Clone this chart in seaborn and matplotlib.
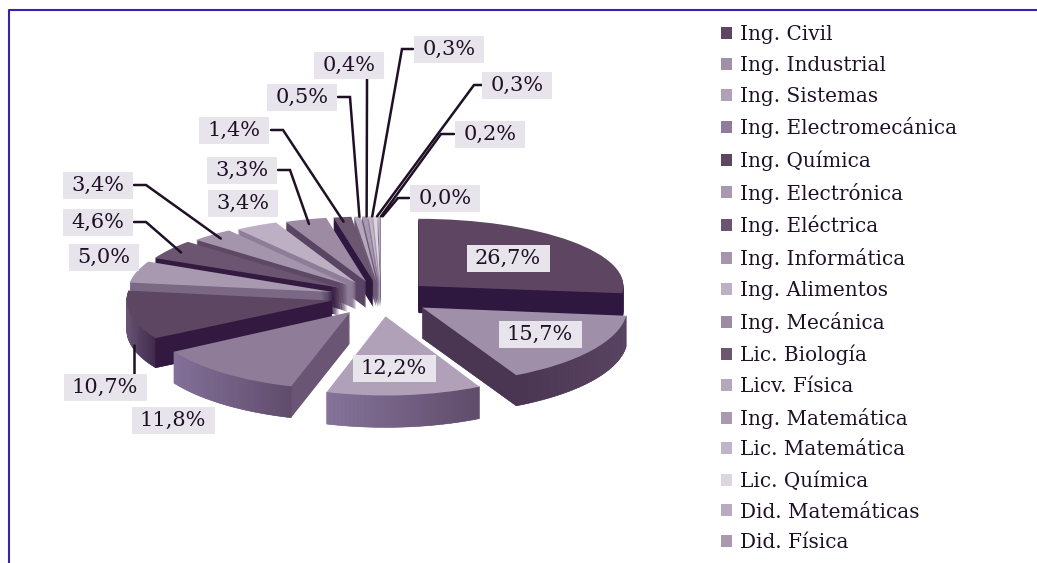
import matplotlib
matplotlib.use('Agg')
import matplotlib.pyplot as plt
from matplotlib.colors import to_rgb
from matplotlib.patches import Rectangle
from matplotlib.transforms import Affine2D
import numpy as np
import seaborn as sns

# programs, clockwise from 12 o'clock
carreras = ['Ing. Civil', 'Ing. Industrial', 'Ing. Sistemas', 'Ing. Electromecánica',
            'Ing. Química', 'Ing. Electrónica', 'Ing. Eléctrica', 'Ing. Informática',
            'Ing. Alimentos', 'Ing. Mecánica', 'Lic. Biología', 'Licv. Física',
            'Ing. Matemática', 'Lic. Matemática', 'Lic. Química', 'Did. Matemáticas',
            'Did. Física']
porcentajes = [26.7, 15.7, 12.2, 11.8, 10.7, 5.0, 4.6, 3.4, 3.4, 3.3, 1.4, 0.5, 0.4, 0.3, 0.3, 0.2, 0.0]

colores = ['#5e4562', '#a08fa8', '#b0a0b8', '#8f7c98', '#5c4662', '#a898b0', '#6b5570', '#a494ac',
           '#bdb0c4', '#9c8ba3', '#6b5870', '#b5a8bc', '#a898b0', '#c0b4c6', '#dcd6e0', '#b8aac0', '#a898b0']
lados = ['#2e1840', '#4a3552', '#76627f', '#6a5575', '#33193f', '#7a6885', '#331a40', '#5e4866',
         '#8e7d98', '#5a4463', '#2e1840', '#6e5a78', '#6e5a78', '#8a7a92', '#a598ac', '#7a6885', '#6e5a78']
# outer rim shading of the big front slices, right end then left end
rim_degradado = {1: ('#5a4463', '#4a3552'), 2: ('#5f4b6a', '#85739a'),
                 3: ('#5f4b6a', '#84719a'), 4: ('#3f2a4c', '#6a5575')}

# label centres in pixels
etiqueta_x = [508, 540, 394, 173, 105, 104, 98, 98, 243, 242, 234, 302, 349, 449, 517, 490, 445]
etiqueta_y = [258, 334, 368, 420, 387, 257, 222, 185, 203, 170, 130, 97, 65, 49, 85, 134, 198]
# leader start and elbow in pixels, by slice
lideres = {6: [(134, 222), (146, 222)], 7: [(134, 185), (146, 185)],
           9: [(278, 170), (290, 170)], 10: [(271, 130), (283, 130)], 11: [(338, 97), (350, 97)],
           12: [(367, 79), (367, 90)], 13: [(413, 49), (402, 49)], 14: [(487, 85), (474, 85)],
           15: [(454, 134), (441, 134)], 16: [(409, 198), (398, 198)]}

W, H = 1037, 563
CX, CY = 381, 297      # pie centre, px
RX, RY = 205, 72       # ellipse radii, px
PROF = 29              # thickness, px
EXPLOTA = 0.245
FUENTE = 'DejaVu Serif'

sns.set_theme(style='white')
plt.rcParams['font.family'] = [FUENTE, 'DejaVu Sans']

fig = plt.figure(figsize=(W / 100, H / 100), dpi=100, facecolor='white')
ax = fig.add_axes([0, 0, 1, 1])
medios = []
acum = 0
for v in porcentajes:
    medios.append(90 - (acum + v / 2) * 3.6)
    acum += v
medios = np.array(medios)
# back slices look smaller than front ones
k_y = 1 + 0.1 * -np.sin(np.radians(medios))
orden = np.argsort(np.argsort(-np.sin(np.radians(medios))))

arriba = None
for capa in range(PROF + 1):
    centro_y = -(PROF - capa) / RY
    wedges, _ = ax.pie(np.maximum(porcentajes, 0.02), explode=[EXPLOTA] * len(porcentajes), startangle=90,
                       counterclock=False, center=(0, centro_y), radius=1, normalize=True,
                       colors=colores if capa == PROF else lados, wedgeprops={'linewidth': 0})
    for i, w in enumerate(wedges):
        w.set_transform(Affine2D().scale(1, k_y[i]) + ax.transData)
        w.set_clip_on(False)
        w.set_zorder(10 + orden[i] * 100 + capa)
    arriba = wedges

# shade the outer rim of the front slices
caida = PROF / RY
for i, (c_der, c_izq) in rim_degradado.items():
    w = arriba[i]
    # radial cut faces keep the flat side colour, so leave them out of the rim
    angulos = np.radians(np.linspace(w.theta1, w.theta2, 41))
    c_der, c_izq = np.array(to_rgb(c_der)), np.array(to_rgb(c_izq))
    for j in range(40):
        a0, a1 = angulos[j], angulos[j + 1]
        t = (np.cos(a0) - np.cos(angulos).max()) / (np.cos(angulos).min() - np.cos(angulos).max())
        col = c_der + (c_izq - c_der) * t
        xs = w.center[0] + np.cos([a0, a1, a1, a0])
        ys = (w.center[1] + np.sin([a0, a1, a1, a0]) - np.array([0, 0, caida, caida])) * k_y[i]
        ax.fill(xs, ys, color=col, lw=0.4, clip_on=False, zorder=10 + orden[i] * 100 + PROF - 0.5)

# cut faces seen from the front
for i in [1, 4]:
    w = arriba[i]
    a = np.radians(w.theta1 if np.cos(np.radians(medios[i])) > 0 else w.theta2)
    xs = w.center[0] + np.array([0, np.cos(a), np.cos(a), 0])
    ys = (w.center[1] + np.array([0, np.sin(a), np.sin(a) - caida, -caida])) * k_y[i]
    ax.fill(xs, ys, color=lados[i], lw=0.4, clip_on=False, zorder=10 + orden[i] * 100 + PROF - 0.2)

ax.set_aspect('auto')
ax.set_xlim(-CX / RX, (W - CX) / RX)
ax.set_ylim(-(H - CY) / RY, CY / RY)
ax.axis('off')

# overlay in pixel coordinates for labels, leaders and frame
ov = fig.add_axes([0, 0, 1, 1], facecolor='none')
ov.set_xlim(0, W)
ov.set_ylim(H, 0)
ov.axis('off')
ov.plot([9, 9, W], [H, 10, 10], color='#3a1fb0', lw=1.5, solid_capstyle='butt')

fig.canvas.draw()
for i, puntos in lideres.items():
    w = arriba[i]
    ang = np.radians(medios[i])
    dentro = 1.0 if i > 10 else 0.93
    px = w.center[0] + dentro * np.cos(ang)
    py = (w.center[1] + dentro * np.sin(ang)) * k_y[i]
    disp = ax.transData.transform((px, py))
    fx, fy = ov.transData.inverted().transform(disp)
    if i > 10:
        fx += 3
    xs = [p[0] for p in puntos] + [fx]
    ys = [p[1] for p in puntos] + [fy]
    ov.plot(xs, ys, color='#1f1026', lw=1.8, solid_joinstyle='miter', zorder=5)
# the 10,7% leader runs straight up to the rim
ov.plot([134, 134], [374, 345], color='#1f1026', lw=1.8, zorder=5)

for i, v in enumerate(porcentajes):
    txt = f'{v:.1f}'.replace('.', ',') + '%'
    ancho = 83 if v >= 10 else 70
    ov.add_patch(Rectangle((etiqueta_x[i] - ancho / 2, etiqueta_y[i] - 13.5), ancho, 27,
                           facecolor='#e8e4ec', edgecolor='none', zorder=6))
    ov.text(etiqueta_x[i], etiqueta_y[i], txt, ha='center', va='center', fontsize=15,
            color='#1f1026', zorder=7)

ov.legend(arriba, carreras, loc='upper left', bbox_to_anchor=(721 / W, 1 - 25 / H), bbox_transform=fig.transFigure,
          frameon=False, fontsize=14.4, labelcolor='#1f1026', borderpad=0, borderaxespad=0,
          handlelength=0.55, handleheight=0.55, handletextpad=0.4, labelspacing=0.59)

fig.savefig('out.png', dpi=100, facecolor='white')
